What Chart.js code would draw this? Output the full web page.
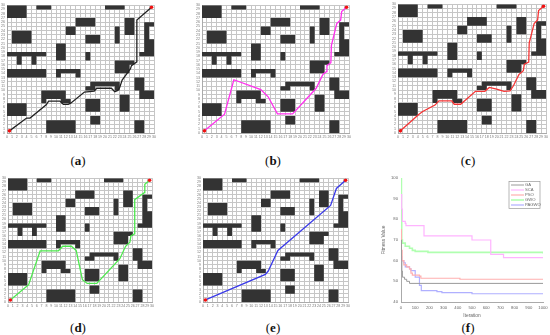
<!DOCTYPE html>
<html>
<head>
<meta charset="utf-8">
<script src="https://cdn.jsdelivr.net/npm/chart.js@4"></script>
<style>
  html, body { margin: 0; padding: 0; background: #fff; }
  body { width: 550px; height: 335px; position: relative; overflow: hidden; }
  canvas { position: absolute; }
  .cap { position: absolute; transform: translateX(-50%); font: 13px "Liberation Serif", serif; color: #111; }
  .cap b { font-weight: bold; }
</style>
</head>
<body>
<script>
// obstacle outlines, grid units
const obstacles = [
  [[0,27],[4,27],[4,30],[0,30]],
  [[6,29],[9,29],[9,30],[6,30]],
  [[20,29],[24,29],[24,30],[20,30]],
  [[14,25],[18,25],[18,27],[14,27]],
  [[12,23],[14,23],[14,25],[12,25]],
  [[24,23],[26,23],[26,27],[24,27]],
  [[22,21],[23,21],[23,25],[22,25]],
  [[1,21],[5,21],[5,24],[1,24]],
  [[16,21],[19,21],[19,23],[16,23]],
  [[28,26],[30,26],[30,25],[29,25],[29,22],[30,22],[30,18],[27,18],[27,19],[28,19]],
  [[10,17],[12,17],[12,21],[10,21]],
  [[16,17],[17,17],[17,19],[16,19]],
  [[0,19],[8,19],[8,18],[6,18],[6,16],[5,16],[5,18],[3,18],[3,16],[2,16],[2,18],[0,18]],
  [[0,13],[8,13],[8,15],[0,15]],
  [[10,15],[15,15],[15,13],[14,13],[14,14],[11,14],[11,13],[10,13]],
  [[22,17],[26,17],[26,16],[25,16],[25,14],[22,14]],
  [[17,12],[23,12],[23,10],[22,10],[22,11],[18,11],[18,10],[16,10],[16,11],[17,11]],
  [[26,13],[28,13],[28,10],[30,10],[30,8],[27,8],[27,10],[26,10]],
  [[7,10],[12,10],[12,8],[13,8],[13,7],[11,7],[11,8],[8,8],[8,7],[7,7]],
  [[23,5],[25,5],[25,9],[23,9]],
  [[16,5],[19,5],[19,8],[16,8]],
  [[0,4],[4,4],[4,7],[0,7]],
  [[17,2],[19,2],[19,4],[17,4]],
  [[8,0],[14,0],[14,3],[8,3]],
  [[26,0],[28,0],[28,3],[26,3]]
];

const pathA = [[0.5,0.5],[4,3.5],[4.7,3.5],[8,6.6],[8.5,7.5],[10.8,7.5],[11.5,6.7],[12.5,6.7],[13,7],[15.8,9.6],[17.8,9.8],[18.3,10.5],[21.3,10.5],[22,9.7],[22.6,10],[23,10.7],[23.5,12.4],[25.2,15.1],[25.4,15.8],[26.5,16.7],[26.5,26.5],[29.5,29.5]];
const pathB = [[0.5,0.5],[4.6,4.4],[6.5,12.5],[12,10.2],[13.5,8.5],[15.4,4.5],[18.5,4.5],[23.3,10.5],[24.7,13.8],[25.4,14.4],[25.5,15.8],[26.3,16.5],[26.4,20.5],[27.5,25.7],[28.3,26.5],[28.5,28.5],[29.5,29.5]];
const pathC = [[0.5,0.5],[4.2,4.3],[5,5],[7.5,6.5],[8.3,7.5],[10.9,7.5],[11.4,6.7],[12.7,6.7],[15.7,9.7],[17.6,9.7],[18.5,10.6],[20,10.2],[21.5,9.7],[22.7,9.8],[23.4,11],[24.5,13.6],[25.4,14.5],[25.6,16],[26.5,16.5],[26.6,21],[27.6,25.5],[28.3,26.3],[28.5,28.5],[29.5,29.5]];
const pathD = [[0.5,0.5],[4.3,4.2],[6.7,12.4],[10.5,12.4],[11.4,13.5],[13.2,13.5],[14.2,12.5],[15.5,5.4],[16.5,4.5],[18.5,4.5],[23.3,10.5],[24.5,13.5],[25.4,14.5],[25.6,16],[26.4,16.5],[26.4,24.8],[28.4,26.5],[28.5,28.5],[29.5,29.5]];
const pathE = [[0.5,0.5],[12.9,6.7],[13.5,7.5],[15.5,12.5],[26.4,23.4],[27.6,27.5],[29.5,29.5]];

const gaCurve = [[0,70],[3,60],[6,55],[10,52],[25,51],[40,50],[60,49],[1000,49]];
const scaCurve = [[0,92],[5,85],[10,79],[30,78],[35,77],[162,72],[500,70],[632,63],[722,61.5],[1000,61.5]];
const psoCurve = [[0,75],[3,65],[8,60],[20,58],[40,57],[60,56],[70,54],[80,53],[130,52.5],[140,51.5],[415,51],[1000,50.8]];
const gwoCurve = [[0,100],[3,80],[5,70],[10,68.5],[30,67],[60,66],[80,65],[100,64.5],[190,64],[1000,63.5]];
const pagwoCurve = [[0,62],[5,60],[20,59],[30,57],[60,56],[70,55.2],[100,52],[130,48],[143,45.5],[253,45],[288,44.5],[500,44],[1000,44]];

const gridTicks = 30;
const fitnessNames = ['GA', 'SCA', 'PSO', 'GWO', 'PAGWO'];

const toPts = arr => arr.map(p => ({ x: p[0], y: p[1] }));

function makeCanvas(left, top, w, h) {
  const c = document.createElement('canvas');
  c.width = w;
  c.height = h;
  c.style.left = left + 'px';
  c.style.top = top + 'px';
  c.style.width = w + 'px';
  c.style.height = h + 'px';
  document.body.appendChild(c);
  return c;
}

function gridPanel(path, color, plotLeft, plotTop, plotW, plotH) {
  const mL = 12, mT = 4, mR = 5, mB = 12;
  const canvas = makeCanvas(plotLeft - mL, plotTop - mT, plotW + mL + mR, plotH + mT + mB);
  const axis = size => ({
    type: 'linear', min: 0, max: gridTicks,
    grid: { color: '#c6c6c6', lineWidth: 1, drawTicks: false },
    border: { color: '#aaa' },
    ticks: { stepSize: 1, autoSkip: false, maxRotation: 0, minRotation: 0, padding: 2, color: '#777',
             font: { size: 3.6, family: 'Liberation Sans' } },
    afterFit: s => { if (size.w) s.width = size.w; else s.height = size.h; }
  });
  new Chart(canvas, {
    type: 'scatter',
    data: {
      datasets: [
        { data: [toPts(path)[0], toPts(path)[path.length - 1]], pointRadius: 1.8, pointBackgroundColor: '#f01010', pointBorderWidth: 0 },
        { data: toPts(path), showLine: true, borderColor: color, borderWidth: 1.3, pointRadius: 0 }
      ].concat(obstacles.map(o => ({
        data: toPts(o.concat([o[0]])), showLine: true, fill: 'shape',
        backgroundColor: '#333', borderColor: '#333', borderWidth: 0, pointRadius: 0
      })))
    },
    options: {
      responsive: false, animation: false,
      layout: { padding: { top: mT, right: mR, left: 0, bottom: 0 } },
      plugins: { legend: { display: false }, tooltip: { enabled: false } },
      scales: { x: axis({ h: mB }), y: axis({ w: mL }) }
    }
  });
}

gridPanel(pathA, '#222222', 7, 4.5, 147, 128.5);
gridPanel(pathB, '#ff30ee', 202, 4.5, 147, 128.5);
gridPanel(pathC, '#f53535', 398, 4, 148, 129);
gridPanel(pathD, '#4ee84e', 8, 178, 144, 124);
gridPanel(pathE, '#3a3ae8', 203, 178, 145, 124);

// legend box for panel f
const boxLegend = {
  id: 'boxLegend',
  afterDatasetsDraw(chart) {
    const { ctx, chartArea: a } = chart;
    const x0 = a.right - 34, y0 = a.top + 3.5, w = 31, h = 27, row = h / 5.4;
    ctx.save();
    ctx.fillStyle = '#fff';
    ctx.strokeStyle = '#999';
    ctx.lineWidth = 0.7;
    ctx.fillRect(x0, y0, w, h);
    ctx.strokeRect(x0, y0, w, h);
    ctx.font = '4.2px "Liberation Sans"';
    ctx.textBaseline = 'middle';
    chart.data.datasets.forEach((d, i) => {
      const y = y0 + row * (i + 0.7);
      ctx.strokeStyle = d.borderColor;
      ctx.lineWidth = d.borderWidth;
      ctx.beginPath();
      ctx.moveTo(x0 + 2, y);
      ctx.lineTo(x0 + 15, y);
      ctx.stroke();
      ctx.fillStyle = '#666';
      ctx.fillText(d.label, x0 + 16, y);
    });
    ctx.restore();
  }
};

function fitnessPanel(plotLeft, plotTop, plotW, plotH) {
  const mL = 20, mT = 4, mR = 6, mB = 17;
  const canvas = makeCanvas(plotLeft - mL, plotTop - mT, plotW + mL + mR, plotH + mT + mB);
  const curves = [gaCurve, scaCurve, psoCurve, gwoCurve, pagwoCurve];
  const colors = ['#9a9a9a', '#ffb4ff', '#ffb0b0', '#b0ffb0', '#b0b0ff'];
  const widths = [1, 1.2, 1.2, 1.6, 1.2];
  const tickFont = { size: 4.2, family: 'Liberation Sans' };
  new Chart(canvas, {
    type: 'scatter',
    data: {
      datasets: curves.map((c, i) => ({
        label: fitnessNames[i], data: toPts(c), showLine: true, stepped: true,
        borderColor: colors[i], borderWidth: widths[i], pointRadius: 0
      }))
    },
    options: {
      responsive: false, animation: false,
      layout: { padding: { top: mT, right: mR, left: 0, bottom: 0 } },
      plugins: { legend: { display: false }, tooltip: { enabled: false } },
      scales: {
        x: {
          type: 'linear', min: 0, max: 1000,
          grid: { display: false, tickLength: 2, tickColor: '#999' },
          border: { color: '#aaa' },
          ticks: { stepSize: 100, maxRotation: 0, padding: 1, color: '#666', font: tickFont, callback: v => String(v) },
          title: { display: true, text: 'Iteration', color: '#666', padding: 0, font: { size: 4.8, family: 'Liberation Sans' } },
          afterFit: s => { s.height = mB; }
        },
        y: {
          type: 'linear', min: 40, max: 100,
          grid: { display: false, tickLength: 2, tickColor: '#999' },
          border: { color: '#aaa' },
          ticks: { stepSize: 10, padding: 1, color: '#666', font: tickFont },
          title: { display: true, text: 'Fitness Value', color: '#666', padding: 0, font: { size: 4.8, family: 'Liberation Sans' } },
          afterFit: s => { s.width = mL; }
        }
      }
    },
    plugins: [boxLegend]
  });
}

fitnessPanel(401, 178, 142, 124);

// captions under the panels
const captionLetters = ['a', 'b', 'c', 'd', 'e', 'f'];
const captionX = [78, 273, 468, 78, 273, 468];
const captionY = [153, 153, 153, 320, 320, 320];
captionLetters.forEach((l, i) => {
  const d = document.createElement('div');
  d.className = 'cap';
  d.style.left = captionX[i] + 'px';
  d.style.top = captionY[i] + 'px';
  d.innerHTML = '(<b>' + l + '</b>)';
  document.body.appendChild(d);
});
</script>
</body>
</html>
